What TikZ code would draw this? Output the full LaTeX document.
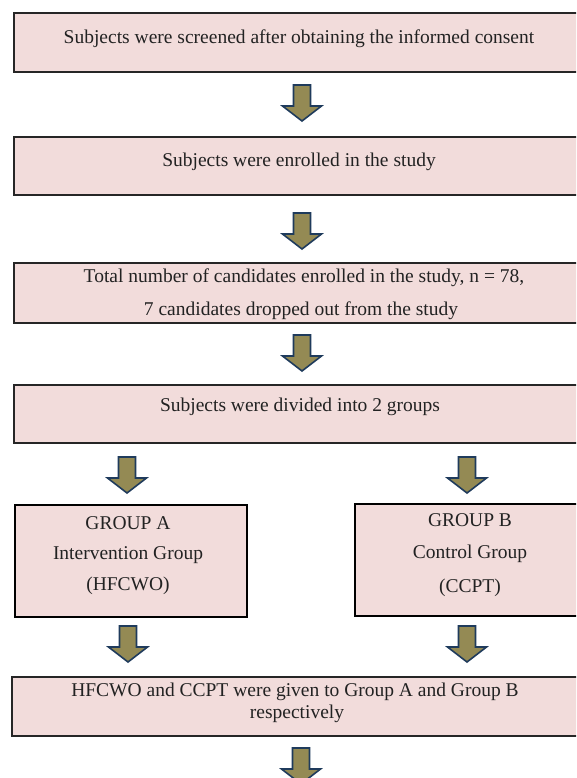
\documentclass[tikz,border=0pt]{standalone}
\usepackage{fontspec}
\setmainfont{Liberation Serif}
\definecolor{boxfill}{HTML}{F2DCDB}
\definecolor{arrowfill}{HTML}{948A54}
\definecolor{arrowline}{HTML}{1F3B5C}
\definecolor{txt}{HTML}{222222}
\begin{document}
\begin{tikzpicture}[x=1pt,y=-1pt,
  mainbox/.style={draw=black!85,line width=1.4pt,fill=boxfill},
  groupbox/.style={draw=black,line width=2.6pt,fill=boxfill},
  lbl/.style={inner sep=0pt,text=txt,font=\fontsize{19.5}{23}\selectfont},
  arrowstyle/.style={draw=arrowline,line width=1.6pt,fill=arrowfill,line join=miter},
  blockarrow/.pic={\draw[arrowstyle] (-8.5,0) -- (8.5,0) -- (8.5,21) -- (19.5,21) -- (0,36) -- (-19.5,21) -- (-8.5,21) -- cycle;}]
\useasboundingbox (0,0) rectangle (576,778);
\clip (0,0) rectangle (576,778);
\fill[white] (0,0) rectangle (576,778);
% main boxes
\draw[mainbox] (14,13) rectangle (600,72);
\node[lbl] (t1) at (299,39) {Subjects were screened after obtaining the informed consent};
\coordinate (a1) at (302,85);
\pic at (a1) {blockarrow};
\draw[mainbox] (14,137) rectangle (600,195);
\node[lbl] (t2) at (299,162) {Subjects were enrolled in the study};
\coordinate (a2) at (302,213);
\pic at (a2) {blockarrow};
\draw[mainbox] (14,263) rectangle (600,323);
\node[lbl] (t3a) at (304,278) {Total number of candidates enrolled in the study, n = 78,};
\node[lbl] (t3b) at (301,311) {7 candidates dropped out from the study};
\coordinate (a3) at (302,335);
\pic at (a3) {blockarrow};
\draw[mainbox] (14,385) rectangle (600,443);
\node[lbl] (t4) at (300,407) {Subjects were divided into 2 groups};
\coordinate (a4l) at (127,457);
\coordinate (a4r) at (467,457);
\pic at (a4l) {blockarrow};
\pic at (a4r) {blockarrow};
% group boxes
\draw[groupbox] (15,505) rectangle (247,617);
\node[lbl] (ga1) at (128,523) {GROUP A};
\node[lbl] (ga2) at (128,555) {Intervention Group};
\node[lbl] (ga3) at (128,586) {(HFCWO)};
\draw[groupbox] (355,504) rectangle (600,616);
\node[lbl] (gb1) at (470,520) {GROUP B};
\node[lbl] (gb2) at (470,554) {Control Group};
\node[lbl] (gb3) at (470,588) {(CCPT)};
\coordinate (a5l) at (128,626);
\coordinate (a5r) at (467,626);
\pic at (a5l) {blockarrow};
\pic at (a5r) {blockarrow};
% final box
\draw[mainbox] (12,677) rectangle (600,736);
\node[lbl] (t5a) at (295,692) {HFCWO and CCPT were given to Group A and Group B};
\node[lbl] (t5b) at (297,714) {respectively};
\coordinate (a6) at (301,748);
\pic at (a6) {blockarrow};
\end{tikzpicture}
\end{document}
